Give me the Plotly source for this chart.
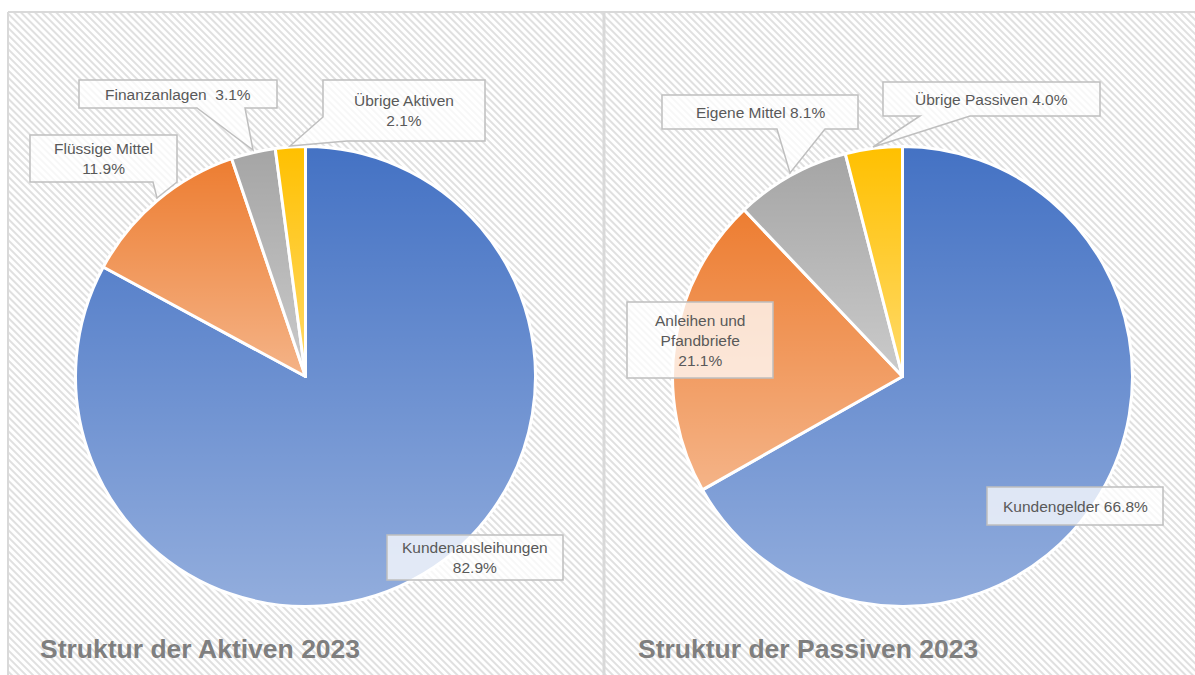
import base64
import math
import plotly.graph_objects as go

# ---------------- data ----------------
aktiv_names = ["Kundenausleihungen", "Flüssige Mittel", "Finanzanlagen", "Übrige Aktiven"]
aktiv_values = [82.9, 11.9, 3.1, 2.1]
aktiv_label_sep = ["<br>", "<br>", "\u00a0\u00a0", "<br>"]

passiv_names = ["Kundengelder", "Anleihen und<br>Pfandbriefe", "Eigene Mittel", "Übrige Passiven"]
passiv_values = [66.8, 21.1, 8.1, 4.0]
passiv_label_sep = [" ", "<br>", " ", " "]

slice_colors = ["#4472C4", "#ED7D31", "#A5A5A5", "#FFC000"]
titles = ["Struktur der Aktiven 2023", "Struktur der Passiven 2023"]

# ---------------- layout constants (pixels) ----------------
W, H = 1195, 675
R = 230
pie_centers = [(305.5, 376.5), (902.5, 376.5)]

# label boxes: callout outlines in pixel coords
aktiv_boxes = [
    dict(center=(475, 557.5), path="M387,535 H563 V580 H387 Z"),
    dict(center=(103.5, 158.5), path="M30,135 H177 V182 L157,198 L153,182 H30 Z"),
    dict(center=(178, 94), path="M79,80 H277 V108 H245 L253,150 L197,108 H79 Z"),
    dict(center=(404, 110.5), path="M323,80 H485 V141 H347 L290,146 L323,117 Z"),
]
passiv_boxes = [
    dict(center=(1075, 506), path="M987,487 H1163 V525 H987 Z"),
    dict(center=(700, 340), path="M627,302 H773 V378 H627 Z"),
    dict(center=(760, 112), path="M662,95 H858 V129 H825 L790,173 L777,129 H662 Z"),
    dict(center=(991.5, 99), path="M883,82 H1100 V116 H970 L873,147 L920,116 H883 Z"),
]

FONT = "Liberation Sans, Arial, sans-serif"


def data_uri(svg):
    return "data:image/svg+xml;base64," + base64.b64encode(svg.encode("utf-8")).decode("ascii")


# hatched background
hatch_svg = (
    f"<svg xmlns='http://www.w3.org/2000/svg' width='{W}' height='{H}' viewBox='0 0 {W} {H}' "
    f"preserveAspectRatio='none'><defs><pattern id='h' width='5' height='5' "
    f"patternUnits='userSpaceOnUse' patternTransform='rotate(-45)'>"
    f"<rect width='5' height='5' fill='#ffffff'/><rect width='2' height='5' fill='#e0e0e0'/>"
    f"</pattern></defs><rect x='8' y='12' width='{W - 8}' height='{H - 12}' fill='url(#h)'/></svg>"
)


# gradient shading overlay per slice (top -> bottom lighter), derived from the values
def wedge_paths(values, cx, cy, r):
    total = sum(values)
    out = []
    acc = 0.0
    for v in values:
        a0 = 2 * math.pi * acc / total
        acc += v
        a1 = 2 * math.pi * acc / total
        x0, y0 = cx + r * math.sin(a0), cy - r * math.cos(a0)
        x1, y1 = cx + r * math.sin(a1), cy - r * math.cos(a1)
        large = 1 if (a1 - a0) > math.pi else 0
        out.append(f"M{cx:.2f},{cy:.2f} L{x0:.2f},{y0:.2f} A{r},{r} 0 {large} 1 {x1:.2f},{y1:.2f} Z")
    return out


paths = wedge_paths(aktiv_values, *pie_centers[0], R) + wedge_paths(passiv_values, *pie_centers[1], R)
shade_svg = (
    f"<svg xmlns='http://www.w3.org/2000/svg' width='{W}' height='{H}' viewBox='0 0 {W} {H}' "
    f"preserveAspectRatio='none'><defs><linearGradient id='g' x1='0' y1='0' x2='0' y2='1'>"
    f"<stop offset='0' stop-color='#ffffff' stop-opacity='0'/>"
    f"<stop offset='1' stop-color='#ffffff' stop-opacity='0.42'/></linearGradient></defs>"
    + "".join(f"<path d='{p}' fill='url(#g)'/>" for p in paths)
    + "</svg>"
)

fig = go.Figure()

for (cx, cy), vals, names in [(pie_centers[0], aktiv_values, aktiv_names),
                              (pie_centers[1], passiv_values, passiv_names)]:
    fig.add_trace(go.Pie(
        values=vals,
        labels=[n.replace("<br>", " ") for n in names],
        sort=False,
        direction="clockwise",
        rotation=0,
        textinfo="none",
        hoverinfo="label+percent",
        marker=dict(colors=slice_colors, line=dict(color="#ffffff", width=3)),
        domain=dict(x=[(cx - R) / W, (cx + R) / W], y=[1 - (cy + R) / H, 1 - (cy - R) / H]),
        showlegend=False,
    ))

# invisible pixel axes for shapes/annotations
fig.add_trace(go.Scatter(x=[0, W], y=[0, H], mode="markers", marker=dict(opacity=0),
                         hoverinfo="skip", showlegend=False))

shapes = []
# frame
shapes.append(dict(type="line", xref="x", yref="y", x0=8, x1=W, y0=12, y1=12,
                   line=dict(color="#d9d9d9", width=2), layer="below"))
shapes.append(dict(type="line", xref="x", yref="y", x0=8, x1=8, y0=12, y1=H,
                   line=dict(color="#d9d9d9", width=2), layer="below"))
shapes.append(dict(type="line", xref="x", yref="y", x0=604, x1=604, y0=12, y1=H,
                   line=dict(color="#d9d9d9", width=3), layer="below"))

annotations = []
for names, vals, seps, boxes in [(aktiv_names, aktiv_values, aktiv_label_sep, aktiv_boxes),
                                 (passiv_names, passiv_values, passiv_label_sep, passiv_boxes)]:
    for n, v, s, b in zip(names, vals, seps, boxes):
        shapes.append(dict(type="path", xref="x", yref="y", path=b["path"],
                           fillcolor="rgba(255,255,255,0.75)",
                           line=dict(color="#bfbfbf", width=1.5), layer="above"))
        annotations.append(dict(x=b["center"][0], y=b["center"][1], xref="x", yref="y",
                                text=f"{n}{s}{v:.1f}%", showarrow=False,
                                xanchor="center", yanchor="middle", align="center",
                                font=dict(family=FONT, size=15.5, color="#595959")))

for t, x in zip(titles, [38, 636]):
    annotations.append(dict(x=x, y=649, xref="x", yref="y", text=f"<b>{t}</b>", showarrow=False,
                            xanchor="left", yanchor="middle",
                            font=dict(family=FONT, size=26.5, color="#7f7f7f")))

fig.update_layout(
    width=W, height=H,
    margin=dict(l=0, r=0, t=0, b=0),
    paper_bgcolor="#ffffff",
    plot_bgcolor="rgba(0,0,0,0)",
    xaxis=dict(range=[0, W], visible=False, fixedrange=True, domain=[0, 1]),
    yaxis=dict(range=[H, 0], visible=False, fixedrange=True, domain=[0, 1]),
    shapes=shapes,
    annotations=annotations,
    images=[
        dict(source=data_uri(hatch_svg), xref="paper", yref="paper", x=0, y=1,
             sizex=1, sizey=1, xanchor="left", yanchor="top", sizing="stretch", layer="below"),
        dict(source=data_uri(shade_svg), xref="paper", yref="paper", x=0, y=1,
             sizex=1, sizey=1, xanchor="left", yanchor="top", sizing="stretch", layer="above"),
    ],
)

fig.write_html(
    "out.html",
    config={"displayModeBar": False},
    post_script=(
        "document.body.style.margin='0';document.body.style.overflow='hidden';"
        "document.documentElement.style.overflow='hidden';"
    ),
)
